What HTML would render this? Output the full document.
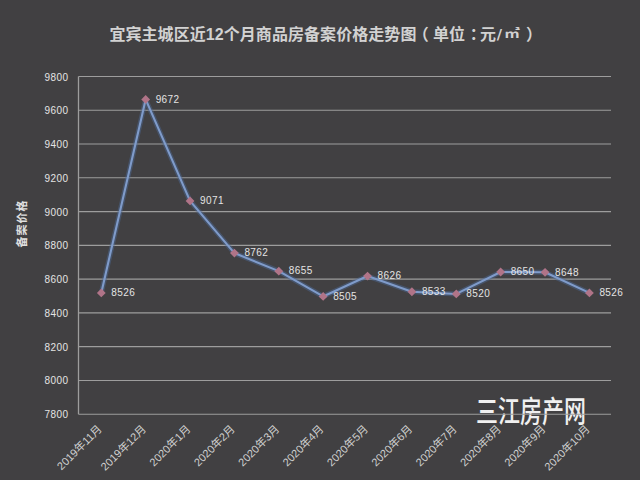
<!DOCTYPE html>
<html><head><meta charset="utf-8"><style>
html,body{margin:0;padding:0;background:#414042;}
svg{display:block;}
text{font-family:"Liberation Sans","Noto Sans CJK SC",sans-serif;}
.yl{font-size:10px;letter-spacing:0.4px;fill:#e4e4e4;text-anchor:end;}
.dl{font-size:10px;letter-spacing:0.4px;fill:#e4e4e4;}
.xl{font-size:11px;fill:#d0d0d0;text-anchor:end;}
.tt{font-size:16px;font-weight:bold;fill:#d2d2d2;}
.at{font-size:11px;letter-spacing:1px;font-weight:bold;fill:#e0e0e0;text-anchor:middle;}
.wm{font-family:"Noto Sans CJK SC",sans-serif;font-size:30px;font-weight:500;fill:#f0f0f0;}
</style></head><body>
<svg width="640" height="480" viewBox="0 0 640 480">
<rect width="640" height="480" fill="#414042"/>
<text x="109.4" y="39.5" class="tt" textLength="307" lengthAdjust="spacing">宜宾主城区近12个月商品房备案价格走势图</text>
<text x="412.7" y="39.5" class="tt">（</text>
<text x="433" y="39.5" class="tt">单位</text>
<text x="469.7" y="39.5" class="tt">：</text>
<text x="480" y="39.5" class="tt">元</text>
<text x="496.8" y="39.4" class="tt" style="font-family:'DejaVu Sans',sans-serif;font-size:14.5px">/</text>
<text x="504.2" y="38" class="tt" style="font-size:12.2px" textLength="15.6" lengthAdjust="spacingAndGlyphs">㎡</text>
<text x="526" y="39.5" class="tt">）</text>
<text transform="translate(25.8,223.4) rotate(-90)" class="at">备案价格</text>
<text x="476" y="422.2" class="wm" textLength="110" lengthAdjust="spacingAndGlyphs">三江房产网</text>
<line x1="78.50" y1="76.50" x2="611.00" y2="76.50" stroke="#9d9d9d" stroke-width="1.1"/>
<text x="68.4" y="80.50" class="yl">9800</text>
<line x1="78.50" y1="110.27" x2="611.00" y2="110.27" stroke="#9d9d9d" stroke-width="1.1"/>
<text x="68.4" y="114.27" class="yl">9600</text>
<line x1="78.50" y1="144.04" x2="611.00" y2="144.04" stroke="#9d9d9d" stroke-width="1.1"/>
<text x="68.4" y="148.04" class="yl">9400</text>
<line x1="78.50" y1="177.81" x2="611.00" y2="177.81" stroke="#9d9d9d" stroke-width="1.1"/>
<text x="68.4" y="181.81" class="yl">9200</text>
<line x1="78.50" y1="211.58" x2="611.00" y2="211.58" stroke="#9d9d9d" stroke-width="1.1"/>
<text x="68.4" y="215.58" class="yl">9000</text>
<line x1="78.50" y1="245.35" x2="611.00" y2="245.35" stroke="#9d9d9d" stroke-width="1.1"/>
<text x="68.4" y="249.35" class="yl">8800</text>
<line x1="78.50" y1="279.12" x2="611.00" y2="279.12" stroke="#9d9d9d" stroke-width="1.1"/>
<text x="68.4" y="283.12" class="yl">8600</text>
<line x1="78.50" y1="312.89" x2="611.00" y2="312.89" stroke="#9d9d9d" stroke-width="1.1"/>
<text x="68.4" y="316.89" class="yl">8400</text>
<line x1="78.50" y1="346.66" x2="611.00" y2="346.66" stroke="#9d9d9d" stroke-width="1.1"/>
<text x="68.4" y="350.66" class="yl">8200</text>
<line x1="78.50" y1="380.43" x2="611.00" y2="380.43" stroke="#9d9d9d" stroke-width="1.1"/>
<text x="68.4" y="384.43" class="yl">8000</text>
<line x1="78.50" y1="414.20" x2="611.00" y2="414.20" stroke="#9d9d9d" stroke-width="1.1"/>
<text x="68.4" y="418.20" class="yl">7800</text>
<line x1="78.50" y1="76.50" x2="78.50" y2="414.20" stroke="#9d9d9d" stroke-width="1.3"/>
<polyline points="101.29,292.91 145.66,99.41 190.04,200.89 234.41,253.07 278.79,271.13 323.16,296.46 367.54,276.03 411.91,291.73 456.29,293.93 500.66,271.98 545.04,272.32 589.41,292.91" fill="none" stroke="#4d6a98" stroke-opacity="0.45" stroke-width="5" stroke-linejoin="round"/>
<polyline points="101.29,292.91 145.66,99.41 190.04,200.89 234.41,253.07 278.79,271.13 323.16,296.46 367.54,276.03 411.91,291.73 456.29,293.93 500.66,271.98 545.04,272.32 589.41,292.91" fill="none" stroke="#7f9bca" stroke-width="2.1" stroke-linejoin="round"/>
<polygon points="101.29,288.51 105.69,292.91 101.29,297.31 96.89,292.91" fill="#b07488"/>
<polygon points="145.66,95.01 150.06,99.41 145.66,103.81 141.26,99.41" fill="#b07488"/>
<polygon points="190.04,196.49 194.44,200.89 190.04,205.29 185.64,200.89" fill="#b07488"/>
<polygon points="234.41,248.67 238.81,253.07 234.41,257.47 230.01,253.07" fill="#b07488"/>
<polygon points="278.79,266.73 283.19,271.13 278.79,275.53 274.39,271.13" fill="#b07488"/>
<polygon points="323.16,292.06 327.56,296.46 323.16,300.86 318.76,296.46" fill="#b07488"/>
<polygon points="367.54,271.63 371.94,276.03 367.54,280.43 363.14,276.03" fill="#b07488"/>
<polygon points="411.91,287.33 416.31,291.73 411.91,296.13 407.51,291.73" fill="#b07488"/>
<polygon points="456.29,289.53 460.69,293.93 456.29,298.33 451.89,293.93" fill="#b07488"/>
<polygon points="500.66,267.58 505.06,271.98 500.66,276.38 496.26,271.98" fill="#b07488"/>
<polygon points="545.04,267.92 549.44,272.32 545.04,276.72 540.64,272.32" fill="#b07488"/>
<polygon points="589.41,288.51 593.81,292.91 589.41,297.31 585.01,292.91" fill="#b07488"/>
<text x="111.29" y="296.11" class="dl">8526</text>
<text x="155.66" y="102.61" class="dl">9672</text>
<text x="200.04" y="204.09" class="dl">9071</text>
<text x="244.41" y="256.27" class="dl">8762</text>
<text x="288.79" y="274.33" class="dl">8655</text>
<text x="333.16" y="299.66" class="dl">8505</text>
<text x="377.54" y="279.23" class="dl">8626</text>
<text x="421.91" y="294.93" class="dl">8533</text>
<text x="466.29" y="297.13" class="dl">8520</text>
<text x="510.66" y="275.18" class="dl">8650</text>
<text x="555.04" y="275.52" class="dl">8648</text>
<text x="599.41" y="296.11" class="dl">8526</text>
<text transform="translate(102.49,429.70) rotate(-45)" class="xl">2019年11月</text>
<text transform="translate(146.86,429.70) rotate(-45)" class="xl">2019年12月</text>
<text transform="translate(191.24,429.70) rotate(-45)" class="xl">2020年1月</text>
<text transform="translate(235.61,429.70) rotate(-45)" class="xl">2020年2月</text>
<text transform="translate(279.99,429.70) rotate(-45)" class="xl">2020年3月</text>
<text transform="translate(324.36,429.70) rotate(-45)" class="xl">2020年4月</text>
<text transform="translate(368.74,429.70) rotate(-45)" class="xl">2020年5月</text>
<text transform="translate(413.11,429.70) rotate(-45)" class="xl">2020年6月</text>
<text transform="translate(457.49,429.70) rotate(-45)" class="xl">2020年7月</text>
<text transform="translate(501.86,429.70) rotate(-45)" class="xl">2020年8月</text>
<text transform="translate(546.24,429.70) rotate(-45)" class="xl">2020年9月</text>
<text transform="translate(590.61,429.70) rotate(-45)" class="xl">2020年10月</text>
</svg>
</body></html>
